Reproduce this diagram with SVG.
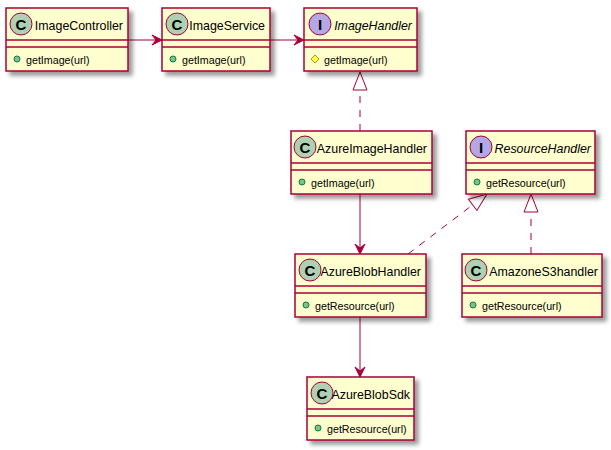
<svg xmlns="http://www.w3.org/2000/svg" width="611" height="450" viewBox="0 0 611 450">
<style>
.box{fill:#FEFECE;stroke:#A80036;stroke-width:1.5;filter:url(#sh)}
.sep{stroke:#A80036;stroke-width:1.5}
.cc{fill:#ADD1B2;stroke:#A80036;stroke-width:1}
.ic{fill:#B4A7E5;stroke:#A80036;stroke-width:1}
.let{font-family:"Liberation Sans",Arial,sans-serif;font-size:15px;font-weight:bold;fill:#000;text-anchor:middle}
.name{font-family:"Liberation Sans",Arial,sans-serif;font-size:12.4px;fill:#000;text-anchor:end}
.iname{font-style:italic}
.meth{font-family:"Liberation Sans",Arial,sans-serif;font-size:10.7px;fill:#000}
.pub{fill:#84BE84;stroke:#038048;stroke-width:1}
.prot{fill:#FFFF44;stroke:#B38D22;stroke-width:1}
.link{fill:none;stroke:#A80036;stroke-width:1}
.dash{stroke-dasharray:7,7}
</style>
<defs>
<filter id="sh" x="-1" y="-1" width="300%" height="300%">
<feGaussianBlur in="SourceAlpha" result="b" stdDeviation="2"/>
<feColorMatrix in="b" result="b2" type="matrix" values="0 0 0 0 0 0 0 0 0 0 0 0 0 0 0 0 0 0 .4 0"/>
<feOffset in="b2" result="b3" dx="4" dy="4"/>
<feBlend in="SourceGraphic" in2="b3" mode="normal"/>
</filter>
<marker id="arr" markerUnits="userSpaceOnUse" markerWidth="14" markerHeight="14" refX="11" refY="6" orient="auto" viewBox="0 0 14 12" overflow="visible">
<path d="M11,6 L1,1 L5,6 L1,11 Z" fill="#A80036" stroke="#A80036" stroke-width="1"/>
</marker>
<marker id="tri" markerUnits="userSpaceOnUse" markerWidth="20" markerHeight="16" refX="19" refY="8" orient="auto" viewBox="0 0 20 16" overflow="visible">
<path d="M19,8 L1,1 L1,15 Z" fill="#FFFFFF" stroke="#A80036" stroke-width="1"/>
</marker>
</defs>

<g id="connectors">
<line class="link" x1="128" y1="40" x2="162" y2="40" marker-end="url(#arr)"/>
<line class="link" x1="270" y1="40" x2="304" y2="40" marker-end="url(#arr)"/>
<line class="link dash" x1="360" y1="131" x2="360" y2="72" marker-end="url(#tri)"/>
<line class="link" x1="360" y1="194" x2="360" y2="254" marker-end="url(#arr)"/>
<line class="link dash" x1="408" y1="254" x2="487" y2="194" marker-end="url(#tri)"/>
<line class="link dash" x1="531" y1="254" x2="531" y2="194" marker-end="url(#tri)"/>
<line class="link" x1="360" y1="317" x2="360" y2="377" marker-end="url(#arr)"/>
</g>

<g id="ImageController">
<rect class="box" x="6" y="8" width="122" height="63"/>
<circle class="cc" cx="21" cy="24" r="11"/>
<text class="let" x="21" y="29.5">C</text>
<text class="name" x="123" y="30">ImageController</text>
<line class="sep" x1="6" y1="40" x2="128" y2="40"/>
<line class="sep" x1="6" y1="47" x2="128" y2="47"/>
<circle class="pub" cx="17" cy="59" r="3"/>
<text class="meth" x="26" y="63.5">getImage(url)</text>
</g>

<g id="ImageService">
<rect class="box" x="162" y="8" width="108" height="63"/>
<circle class="cc" cx="177" cy="24" r="11"/>
<text class="let" x="177" y="29.5">C</text>
<text class="name" x="265" y="30">ImageService</text>
<line class="sep" x1="162" y1="40" x2="270" y2="40"/>
<line class="sep" x1="162" y1="47" x2="270" y2="47"/>
<circle class="pub" cx="173" cy="59" r="3"/>
<text class="meth" x="182" y="63.5">getImage(url)</text>
</g>

<g id="ImageHandler">
<rect class="box" x="304" y="8" width="113" height="63"/>
<circle class="ic" cx="320" cy="24" r="11"/>
<text class="let" x="320" y="29.5">I</text>
<text class="name iname" x="412" y="30">ImageHandler</text>
<line class="sep" x1="304" y1="40" x2="417" y2="40"/>
<line class="sep" x1="304" y1="47" x2="417" y2="47"/>
<polygon class="prot" points="315,55 319,59 315,63 311,59"/>
<text class="meth" x="324" y="63.5">getImage(url)</text>
</g>

<g id="AzureImageHandler">
<rect class="box" x="291" y="131" width="141" height="63"/>
<circle class="cc" cx="305" cy="147" r="11"/>
<text class="let" x="305" y="152.5">C</text>
<text class="name" x="427" y="153">AzureImageHandler</text>
<line class="sep" x1="291" y1="163" x2="432" y2="163"/>
<line class="sep" x1="291" y1="170" x2="432" y2="170"/>
<circle class="pub" cx="302" cy="182" r="3"/>
<text class="meth" x="311" y="186.5">getImage(url)</text>
</g>

<g id="ResourceHandler">
<rect class="box" x="466" y="131" width="129" height="63"/>
<circle class="ic" cx="481" cy="147" r="11"/>
<text class="let" x="481" y="152.5">I</text>
<text class="name iname" x="591" y="153">ResourceHandler</text>
<line class="sep" x1="466" y1="163" x2="595" y2="163"/>
<line class="sep" x1="466" y1="170" x2="595" y2="170"/>
<circle class="pub" cx="477" cy="182" r="3"/>
<text class="meth" x="486" y="186.5">getResource(url)</text>
</g>

<g id="AzureBlobHandler">
<rect class="box" x="295" y="254" width="131" height="63"/>
<circle class="cc" cx="310" cy="270" r="11"/>
<text class="let" x="310" y="275.5">C</text>
<text class="name" x="421" y="276">AzureBlobHandler</text>
<line class="sep" x1="295" y1="286" x2="426" y2="286"/>
<line class="sep" x1="295" y1="293" x2="426" y2="293"/>
<circle class="pub" cx="306" cy="305" r="3"/>
<text class="meth" x="315" y="309.5">getResource(url)</text>
</g>

<g id="AmazoneS3handler">
<rect class="box" x="462" y="254" width="140" height="63"/>
<circle class="cc" cx="476" cy="270" r="11"/>
<text class="let" x="476" y="275.5">C</text>
<text class="name" x="598" y="276">AmazoneS3handler</text>
<line class="sep" x1="462" y1="286" x2="602" y2="286"/>
<line class="sep" x1="462" y1="293" x2="602" y2="293"/>
<circle class="pub" cx="473" cy="305" r="3"/>
<text class="meth" x="482" y="309.5">getResource(url)</text>
</g>

<g id="AzureBlobSdk">
<rect class="box" x="307" y="377" width="107" height="63"/>
<circle class="cc" cx="322" cy="393" r="11"/>
<text class="let" x="322" y="398.5">C</text>
<text class="name" x="410" y="399">AzureBlobSdk</text>
<line class="sep" x1="307" y1="409" x2="414" y2="409"/>
<line class="sep" x1="307" y1="416" x2="414" y2="416"/>
<circle class="pub" cx="318" cy="428" r="3"/>
<text class="meth" x="327" y="432.5">getResource(url)</text>
</g>
</svg>
